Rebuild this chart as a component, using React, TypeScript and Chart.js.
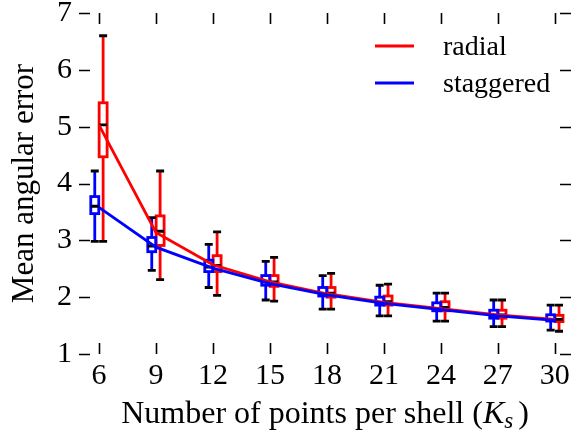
import React, { useEffect, useRef } from "react";
import { Chart, registerables } from "chart.js";

Chart.register(...registerables);

// ---- data ----
const categories = [6, 9, 12, 15, 18, 21, 24, 27, 30];
const yTickValues = [1, 2, 3, 4, 5, 6, 7];

const radialLow = [2.98, 2.31, 2.03, 1.93, 1.79, 1.67, 1.58, 1.48, 1.4];
const radialQ1 = [4.47, 2.91, 2.45, 2.19, 2.0, 1.86, 1.76, 1.63, 1.57];
const radialMedian = [5.03, 3.16, 2.56, 2.27, 2.07, 1.92, 1.82, 1.69, 1.61];
const radialQ3 = [5.42, 3.43, 2.73, 2.38, 2.17, 2.02, 1.92, 1.77, 1.68];
const radialHigh = [6.6, 4.22, 3.15, 2.7, 2.42, 2.23, 2.07, 1.95, 1.86];
const radialLine = [5.03, 3.14, 2.57, 2.27, 2.06, 1.91, 1.8, 1.69, 1.61];

const staggeredLow = [2.98, 2.47, 2.17, 1.95, 1.79, 1.67, 1.58, 1.48, 1.42];
const staggeredQ1 = [3.47, 2.8, 2.45, 2.21, 2.02, 1.86, 1.76, 1.63, 1.58];
const staggeredMedian = [3.6, 2.9, 2.53, 2.27, 2.06, 1.91, 1.8, 1.68, 1.61];
const staggeredQ3 = [3.77, 3.05, 2.65, 2.38, 2.17, 2.0, 1.9, 1.77, 1.69];
const staggeredHigh = [4.22, 3.4, 2.93, 2.63, 2.38, 2.21, 2.07, 1.95, 1.86];
const staggeredLine = [3.58, 2.88, 2.51, 2.24, 2.04, 1.89, 1.78, 1.67, 1.59];

const seriesNames = ["radial", "staggered"];
const xTitle = "Number of points per shell (";
const yTitle = "Mean angular error";

// ---- styles ----
const FONT = "'Liberation Serif', 'Times New Roman', serif";
const RED = "#ff0000";
const BLUE = "#0000ff";
const BOX_OFFSET = 0.22;
const BOX_HALF = 0.21;
const LW = 2.8;

const boxPlugin = {
  id: "boxes",
  beforeDatasetsDraw(chart: any) {
    const { ctx } = chart;
    const xs = chart.scales.x;
    const ys = chart.scales.y;
    const series = [
      { low: radialLow, q1: radialQ1, med: radialMedian, q3: radialQ3, high: radialHigh, off: BOX_OFFSET, color: RED },
      { low: staggeredLow, q1: staggeredQ1, med: staggeredMedian, q3: staggeredQ3, high: staggeredHigh, off: -BOX_OFFSET, color: BLUE },
    ];
    ctx.save();
    ctx.lineCap = "butt";
    series.forEach((s) => {
      categories.forEach((c, i) => {
        const xc = xs.getPixelForValue(c + s.off);
        const x0 = xs.getPixelForValue(c + s.off - BOX_HALF);
        const x1 = xs.getPixelForValue(c + s.off + BOX_HALF);
        const yLow = ys.getPixelForValue(s.low[i]);
        const yQ1 = ys.getPixelForValue(s.q1[i]);
        const yMed = ys.getPixelForValue(s.med[i]);
        const yQ3 = ys.getPixelForValue(s.q3[i]);
        const yHigh = ys.getPixelForValue(s.high[i]);
        // whiskers
        ctx.strokeStyle = s.color;
        ctx.lineWidth = LW;
        ctx.beginPath();
        ctx.moveTo(xc, yQ1);
        ctx.lineTo(xc, yLow);
        ctx.moveTo(xc, yQ3);
        ctx.lineTo(xc, yHigh);
        ctx.stroke();
        // box
        ctx.strokeRect(x0, yQ3, x1 - x0, yQ1 - yQ3);
        // median + caps
        ctx.strokeStyle = "#000";
        ctx.lineWidth = LW;
        ctx.beginPath();
        ctx.moveTo(x0, yMed);
        ctx.lineTo(x1, yMed);
        ctx.moveTo(x0, yLow);
        ctx.lineTo(x1, yLow);
        ctx.moveTo(x0, yHigh);
        ctx.lineTo(x1, yHigh);
        ctx.stroke();
      });
    });
    ctx.restore();
  },
  afterDraw(chart: any) {
    const { ctx, chartArea } = chart;
    const xs = chart.scales.x;
    const ys = chart.scales.y;
    const TL = 11;
    ctx.save();
    ctx.strokeStyle = "#000";
    ctx.lineWidth = 1.6;
    ctx.beginPath();
    categories.forEach((c) => {
      const px = Math.round(xs.getPixelForValue(c)) + 0.5;
      ctx.moveTo(px, chartArea.bottom);
      ctx.lineTo(px, chartArea.bottom - TL);
      ctx.moveTo(px, chartArea.top);
      ctx.lineTo(px, chartArea.top + TL);
    });
    yTickValues.forEach((v) => {
      const py = Math.round(ys.getPixelForValue(v)) + 0.5;
      ctx.moveTo(chartArea.left, py);
      ctx.lineTo(chartArea.left + TL, py);
      ctx.moveTo(chartArea.right, py);
      ctx.lineTo(chartArea.right - TL, py);
    });
    ctx.stroke();

    // legend
    const legendColors = [RED, BLUE];
    const legendY = [46, 83];
    ctx.lineWidth = LW;
    ctx.font = `28px ${FONT}`;
    ctx.fillStyle = "#000";
    ctx.textBaseline = "alphabetic";
    ctx.textAlign = "left";
    seriesNames.forEach((name, i) => {
      ctx.strokeStyle = legendColors[i];
      ctx.beginPath();
      ctx.moveTo(375, legendY[i]);
      ctx.lineTo(414, legendY[i]);
      ctx.stroke();
      ctx.fillText(name, 443, legendY[i] + 9);
    });

    // x title with italic K and subscript s
    const cx = (chartArea.left + chartArea.right) / 2;
    const base = 423;
    const fMain = `32px ${FONT}`;
    const fItal = `italic 32px ${FONT}`;
    const fSub = `italic 23px ${FONT}`;
    ctx.font = fMain;
    const w1 = ctx.measureText(xTitle).width;
    const w4 = ctx.measureText(")").width;
    ctx.font = fItal;
    const w2 = ctx.measureText("K").width;
    ctx.font = fSub;
    const w3 = ctx.measureText("s").width;
    const gap = 5;
    const total = w1 + w2 + w3 + gap + w4;
    let xx = cx - total / 2;
    ctx.font = fMain;
    ctx.fillText(xTitle, xx, base);
    xx += w1;
    ctx.font = fItal;
    ctx.fillText("K", xx, base);
    xx += w2;
    ctx.font = fSub;
    ctx.fillText("s", xx, base + 5);
    xx += w3 + gap;
    ctx.font = fMain;
    ctx.fillText(")", xx, base);

    // y title
    ctx.translate(33, (chartArea.top + chartArea.bottom) / 2);
    ctx.rotate(-Math.PI / 2);
    ctx.textAlign = "center";
    ctx.font = `31px ${FONT}`;
    ctx.fillText(yTitle, 0, 0);
    ctx.restore();
  },
};

export default function App() {
  const ref = useRef<HTMLCanvasElement | null>(null);
  useEffect(() => {
    document.body.style.margin = "0";
    const canvas = ref.current!;
    const chart = new Chart(canvas, {
      type: "line",
      data: {
        datasets: [
          {
            label: seriesNames[0],
            data: categories.map((c, i) => ({ x: c, y: radialLine[i] })),
            borderColor: RED,
            borderWidth: LW,
            pointRadius: 0,
            fill: false,
            tension: 0,
            order: 2,
          },
          {
            label: seriesNames[1],
            data: categories.map((c, i) => ({ x: c, y: staggeredLine[i] })),
            borderColor: BLUE,
            borderWidth: LW,
            pointRadius: 0,
            fill: false,
            tension: 0,
            order: 1,
          },
        ],
      },
      options: {
        animation: false,
        responsive: false,
        devicePixelRatio: 1,
        layout: { padding: { top: 13, left: 0, right: 0, bottom: 0 } },
        plugins: { legend: { display: false }, tooltip: { enabled: false } },
        scales: {
          x: {
            type: "linear",
            min: 4.95,
            max: 30.85,
            grid: { display: false, drawTicks: false },
            border: { display: false },
            afterBuildTicks: (s: any) => {
              s.ticks = categories.map((v) => ({ value: v }));
            },
            afterFit: (s: any) => {
              s.height = 436 - 354;
              s.paddingLeft = 0;
              s.paddingRight = 0;
            },
            ticks: {
              autoSkip: false,
              maxRotation: 0,
              padding: 4,
              color: "#000",
              font: { family: FONT, size: 30 },
              callback: (v: any) => String(v),
            },
          },
          y: {
            min: 1,
            max: 7,
            grid: { display: false, drawTicks: false },
            border: { display: false },
            afterBuildTicks: (s: any) => {
              s.ticks = yTickValues.map((v) => ({ value: v }));
            },
            afterFit: (s: any) => {
              s.width = 79;
              s.paddingTop = 0;
              s.paddingBottom = 0;
            },
            ticks: {
              padding: 7,
              color: "#000",
              font: { family: FONT, size: 30 },
              callback: (v: any) => String(v),
            },
          },
        },
      },
      plugins: [boxPlugin],
    });
    return () => chart.destroy();
  }, []);
  return (
    <div style={{ width: 571, height: 436, overflow: "hidden", background: "#fff" }}>
      <canvas ref={ref} width={571} height={436} style={{ display: "block" }} />
    </div>
  );
}
